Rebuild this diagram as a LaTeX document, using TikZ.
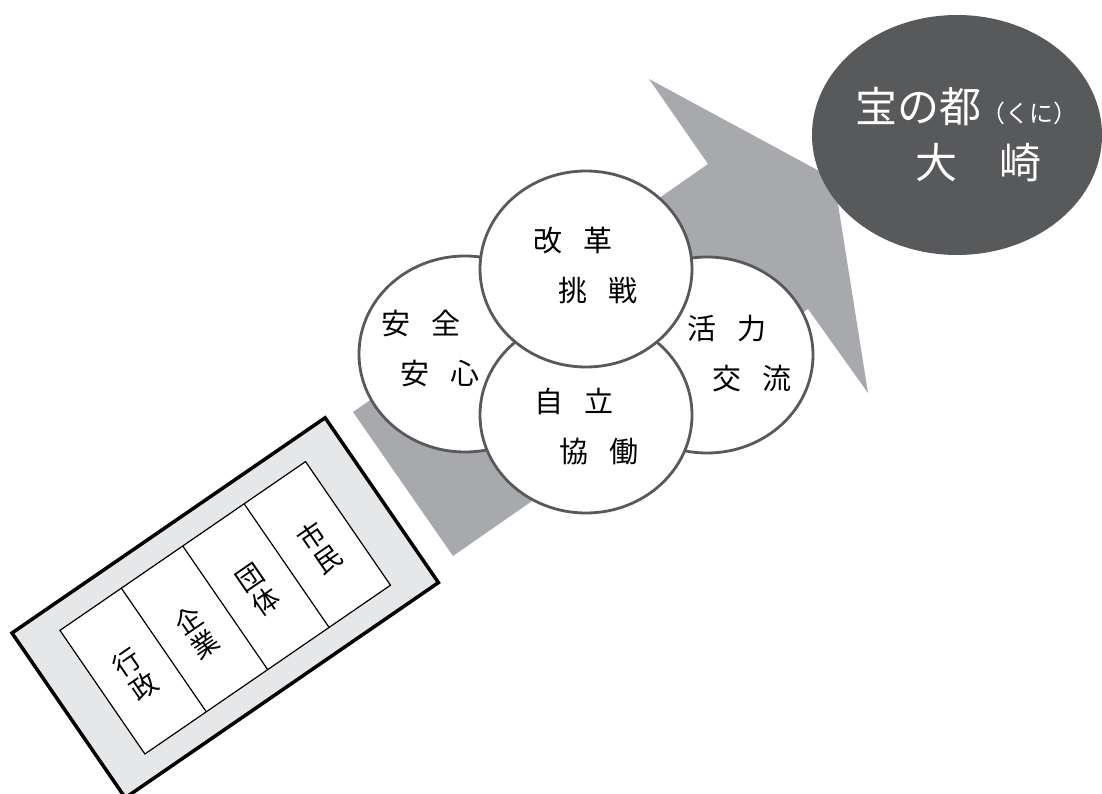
\documentclass[tikz,border=0pt]{standalone}
\usepackage{fontspec}
\setmainfont{Noto Sans CJK JP}
\usetikzlibrary{shapes.geometric}
\definecolor{arrowgray}{HTML}{A7A9AC}
\definecolor{darkgray}{HTML}{58595B}
\definecolor{boxgray}{HTML}{E6E7E8}
\newcommand\jgap{\hspace{21pt}}
\begin{document}
\begin{tikzpicture}[x=1pt,y=-1pt,
  bubble/.style={ellipse, draw=darkgray, line width=2.8pt, fill=white,
    minimum width=212pt, minimum height=196pt, inner sep=0pt},
  bubtext/.style={align=left, font=\fontsize{29}{50}\selectfont, inner sep=0pt},
  celltext/.style={align=center, font=\fontsize{27}{29}\selectfont, rotate=34.5, inner sep=0pt}]
\useasboundingbox (0,0) rectangle (1102,794);
% big arrow
\fill[arrowgray] (353,412) -- (708,164) -- (649,79) -- (834,179) -- (868,393)
  -- (808,309) -- (453,556) -- cycle;
% goal ellipse
\node[fill=darkgray, ellipse, minimum width=290pt, minimum height=240pt, inner sep=0pt] (goal) at (957,135) {};
\node[anchor=base west, text=white, inner sep=0pt] (goal1) at (855,123)
  {\fontsize{42}{42}\selectfont 宝の都\fontsize{24}{24}\selectfont （くに）};
\node[text=white, inner sep=0pt, font=\fontsize{42}{42}\selectfont] (goal2) at (978,163) {大　崎};
% four circles
\node[bubble] (cleft) at (465,354) {};
\node[bubble] (cright) at (707,355) {};
\node[bubble] (cbottom) at (586,415) {};
\node[bubble] (ctop) at (586,269) {};
\node[bubtext] (tleft) at (430.5,348.5) {安\jgap 全\\\hspace*{19pt}安\jgap 心};
\node[bubtext] (tright) at (739.5,354) {活\jgap 力\\\hspace*{25pt}交\jgap 流};
\node[bubtext] (tbottom) at (586.5,427) {自\jgap 立\\\hspace*{25pt}協\jgap 働};
\node[bubtext] (ttop) at (585.5,265.5) {改\jgap 革\\\hspace*{25pt}挑\jgap 戦};
% actors box
\begin{scope}[shift={(12,633)}, rotate=34.5]
  \draw[fill=boxgray, line width=3.5pt] (0,0) rectangle (380,200);
  \draw[fill=white, line width=1.2pt] (41,25) rectangle (339,175);
  \foreach \k in {1,2,3} \draw[line width=1.2pt] ({41+74.5*\k},25) -- ({41+74.5*\k},175);
  \node[celltext] (gyosei) at (78.25,104) {行\\政};
  \node[celltext] (kigyo) at (152.75,104) {企\\業};
  \node[celltext] (dantai) at (227.25,104) {団\\体};
  \node[celltext] (shimin) at (301.75,104) {市\\民};
\end{scope}
\end{tikzpicture}
\end{document}
